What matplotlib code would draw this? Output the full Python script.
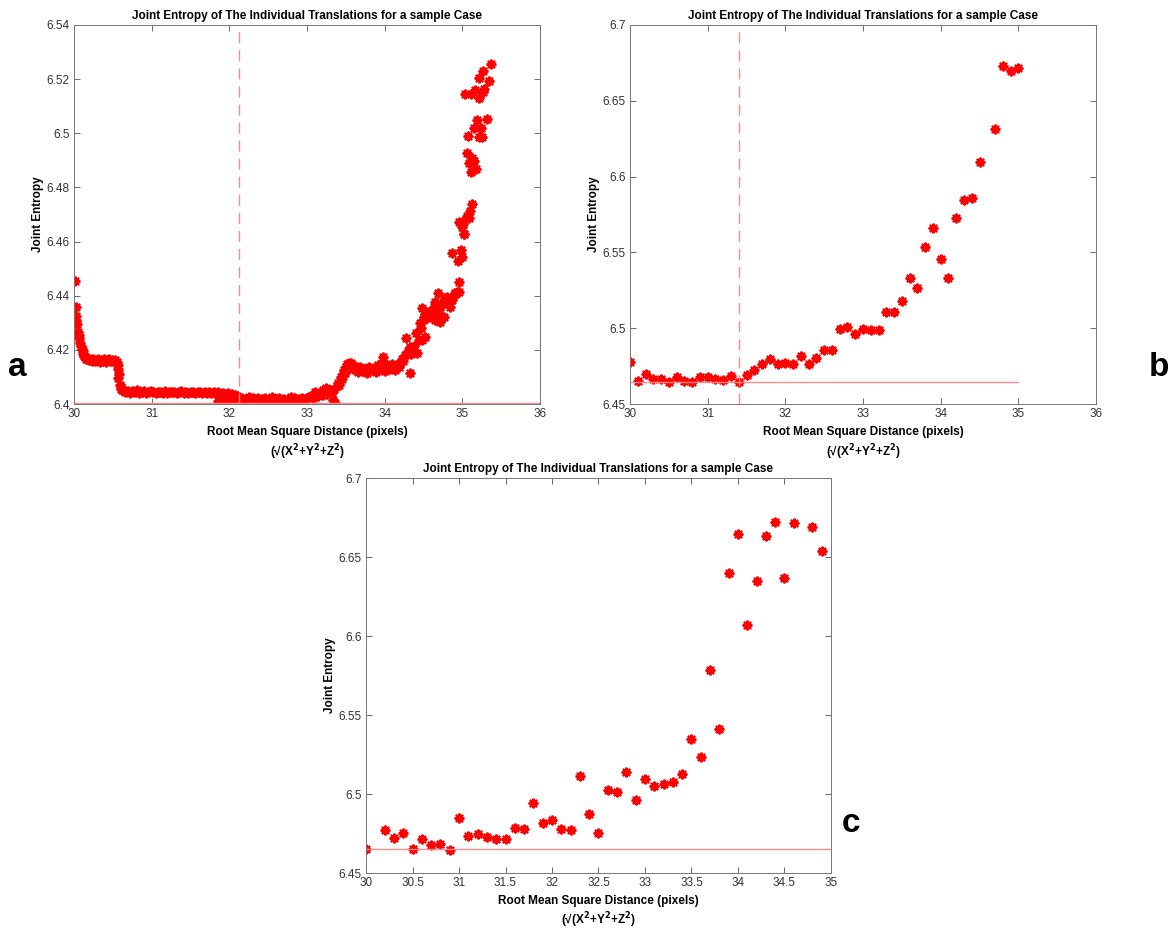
import matplotlib.pyplot as plt

plt.rcParams['font.family'] = ['Liberation Sans', 'DejaVu Sans']

# ---------------- data ----------------
# panel a : dense cloud, typed segment by segment
a_x_decay = [30.01, 30.02, 30.03, 30.03, 30.04, 30.05, 30.06, 30.07, 30.08, 30.09,
             30.10, 30.11, 30.12, 30.13, 30.14, 30.15]
a_y_decay = [6.4455, 6.4360, 6.4325, 6.4310, 6.4295, 6.4265, 6.4255, 6.4243, 6.4225, 6.4215,
             6.4205, 6.4195, 6.4185, 6.4178, 6.4172, 6.4168]

a_x_step1 = [30.17, 30.19, 30.21, 30.23, 30.25, 30.27, 30.29, 30.31, 30.33, 30.35,
             30.37, 30.39, 30.41, 30.43, 30.45, 30.47, 30.49, 30.51, 30.53, 30.55]
a_y_step1 = [6.4166, 6.4162, 6.4168, 6.4160, 6.4165, 6.4158, 6.4163, 6.4167, 6.4156, 6.4164,
             6.4160, 6.4165, 6.4157, 6.4163, 6.4166, 6.4159, 6.4162, 6.4157, 6.4163, 6.4155]

a_x_drop = [30.56, 30.57, 30.57, 30.58, 30.59, 30.60, 30.61, 30.62]
a_y_drop = [6.4145, 6.4130, 6.4095, 6.4112, 6.4072, 6.4062, 6.4055, 6.4050]

a_x_flat1 = [30.63, 30.66, 30.69, 30.72, 30.75, 30.78, 30.81, 30.84, 30.87, 30.90,
             30.93, 30.96, 30.99, 31.02, 31.05, 31.08, 31.11, 31.14, 31.17, 31.20,
             31.23, 31.26, 31.29, 31.32, 31.35, 31.38, 31.41, 31.44, 31.47, 31.50,
             31.53, 31.56, 31.59, 31.62, 31.65, 31.68, 31.71, 31.74, 31.77, 31.80,
             31.83, 31.86, 31.89, 31.92, 31.95, 31.98, 32.01, 32.04, 32.07,
             31.86, 31.95, 32.00, 32.05, 32.10, 32.13]
a_y_flat1 = [6.4052, 6.4044, 6.4049, 6.4041, 6.4047, 6.4043, 6.4050, 6.4042, 6.4046, 6.4048,
             6.4041, 6.4045, 6.4047, 6.4043, 6.4040, 6.4046, 6.4044, 6.4042, 6.4047, 6.4041,
             6.4045, 6.4043, 6.4046, 6.4040, 6.4044, 6.4047, 6.4042, 6.4045, 6.4041, 6.4044,
             6.4046, 6.4040, 6.4043, 6.4045, 6.4039, 6.4044, 6.4042, 6.4046, 6.4040, 6.4043,
             6.4041, 6.4044, 6.4038, 6.4042, 6.4036, 6.4040, 6.4035, 6.4038, 6.4033,
             6.4012, 6.4008, 6.4020, 6.4005, 6.4015, 6.4003]

a_x_flat2 = [32.10, 32.13, 32.16, 32.19, 32.22, 32.25, 32.28, 32.31, 32.34, 32.37,
             32.40, 32.43, 32.46, 32.49, 32.52, 32.55, 32.58, 32.61, 32.64, 32.67,
             32.70, 32.73, 32.76, 32.79, 32.82, 32.85, 32.88, 32.91, 32.94, 32.97, 33.00]
a_y_flat2 = [6.4030, 6.4016, 6.4024, 6.4012, 6.4020, 6.4025, 6.4014, 6.4021, 6.4017, 6.4024,
             6.4011, 6.4019, 6.4022, 6.4015, 6.4020, 6.4026, 6.4013, 6.4018, 6.4023, 6.4016,
             6.4020, 6.4012, 6.4019, 6.4025, 6.4015, 6.4021, 6.4010, 6.4018, 6.4024, 6.4014, 6.4022]

a_x_rise = [33.02, 33.05, 33.08, 33.11, 33.14, 33.17, 33.20, 33.23, 33.26, 33.29,
            33.32, 33.35, 33.36, 33.34, 33.10, 33.20, 33.25,
            33.38, 33.40, 33.42, 33.44, 33.46, 33.48, 33.50, 33.52, 33.54,
            33.41, 33.45, 33.49]
a_y_rise = [6.4025, 6.4030, 6.4022, 6.4035, 6.4028, 6.4040, 6.4033, 6.4045, 6.4038, 6.4050,
            6.4042, 6.4055, 6.4005, 6.4015, 6.4045, 6.4050, 6.4060,
            6.4065, 6.4078, 6.4085, 6.4100, 6.4112, 6.4125, 6.4138, 6.4148, 6.4152,
            6.4070, 6.4092, 6.4115]

a_x_step2 = [33.56, 33.59, 33.62, 33.65, 33.68, 33.71, 33.74, 33.77, 33.80, 33.83,
             33.86, 33.89, 33.92, 33.95, 33.98, 34.01, 34.04, 34.07, 34.10, 34.13,
             34.16, 34.19, 33.98, 34.33]
a_y_step2 = [6.4150, 6.4128, 6.4140, 6.4118, 6.4135, 6.4122, 6.4130, 6.4115, 6.4138, 6.4125,
             6.4132, 6.4120, 6.4145, 6.4128, 6.4160, 6.4122, 6.4140, 6.4130, 6.4148, 6.4125,
             6.4143, 6.4135, 6.4175, 6.4115]

a_x_climb = [34.20, 34.22, 34.24, 34.26, 34.28, 34.30, 34.32, 34.34, 34.36, 34.38,
             34.40, 34.42, 34.44, 34.48, 34.52, 34.47,
             34.46, 34.48, 34.49, 34.50, 34.52, 34.54, 34.56, 34.58, 34.60, 34.61,
             34.63, 34.65, 34.65, 34.67, 34.69, 34.70, 34.71, 34.71, 34.73, 34.76,
             34.76, 34.78, 34.80, 34.82, 34.84, 34.86, 34.88, 34.90, 34.91, 34.93,
             34.96, 34.96]
a_y_climb = [6.4150, 6.4165, 6.4158, 6.4180, 6.4243, 6.4195, 6.4210, 6.4185, 6.4200, 6.4215,
             6.4261, 6.4190, 6.4236, 6.4236, 6.4249, 6.4280,
             6.4300, 6.4353, 6.4310, 6.4320, 6.4331, 6.4316, 6.4340, 6.4341, 6.4330, 6.4322,
             6.4359, 6.4310, 6.4378, 6.4335, 6.4411, 6.4350, 6.4304, 6.4359, 6.4370, 6.4322,
             6.4378, 6.4390, 6.4396, 6.4372, 6.4357, 6.4384, 6.4394, 6.4405, 6.4409, 6.4412,
             6.4413, 6.4450]

a_x_top = [35.02, 34.98, 34.87, 34.99, 34.94,
           35.02, 35.00, 35.01, 34.99, 34.95, 35.09, 35.06, 35.10, 35.13,
           35.11, 35.18, 35.08, 35.15, 35.13, 35.06,
           35.25, 35.21, 35.07, 35.24, 35.15, 35.32, 35.19,
           35.21, 35.11, 35.03, 35.26, 35.28, 35.16, 35.22, 35.34, 35.27, 35.365]
a_y_top = [6.4628, 6.4569, 6.4557, 6.4544, 6.4528,
           6.4629, 6.4655, 6.4664, 6.4671, 6.4671, 6.4688, 6.4696, 6.4714, 6.4739,
           6.4856, 6.4867, 6.4889, 6.4898, 6.4907, 6.4928,
           6.4987, 6.4987, 6.4991, 6.5018, 6.5019, 6.5052, 6.5048,
           6.5129, 6.5144, 6.5144, 6.5153, 6.5164, 6.5161, 6.5204, 6.5194, 6.5230, 6.5256]

a_x = (a_x_decay + a_x_step1 + a_x_drop + a_x_flat1 + a_x_flat2 +
       a_x_rise + a_x_step2 + a_x_climb + a_x_top)
a_y = (a_y_decay + a_y_step1 + a_y_drop + a_y_flat1 + a_y_flat2 +
       a_y_rise + a_y_step2 + a_y_climb + a_y_top)
a_min = 6.4003
a_vline = 32.12

# panel b
b_x = [30.0, 30.1, 30.2, 30.3, 30.4, 30.5, 30.6, 30.7, 30.8, 30.9,
       31.0, 31.1, 31.2, 31.3, 31.4, 31.5, 31.6, 31.7, 31.8, 31.9,
       32.0, 32.1, 32.2, 32.3, 32.4, 32.5, 32.6, 32.7, 32.8, 32.9,
       33.0, 33.1, 33.2, 33.3, 33.4, 33.5, 33.6, 33.7, 33.8, 33.9,
       34.0, 34.1, 34.2, 34.3, 34.4, 34.5, 34.7, 34.8, 34.9, 35.0]
b_y = [6.4774, 6.4653, 6.4699, 6.4662, 6.4664, 6.4646, 6.4675, 6.4653, 6.4646, 6.4677,
       6.4677, 6.4666, 6.4659, 6.4686, 6.4646, 6.4692, 6.4723, 6.4765, 6.4798, 6.4765,
       6.4771, 6.4765, 6.4818, 6.4767, 6.4802, 6.4855, 6.4855, 6.4998, 6.5007, 6.4963,
       6.4998, 6.4989, 6.4989, 6.5106, 6.5106, 6.5182, 6.5330, 6.5266, 6.5534, 6.5664,
       6.5459, 6.5332, 6.5724, 6.5846, 6.5860, 6.6099, 6.6316, 6.6728, 6.6697, 6.6713]
b_min = 6.4644
b_vline = 31.4

# panel c
c_x = [30.0, 30.2, 30.3, 30.4, 30.5, 30.6, 30.7, 30.8, 30.9,
       31.0, 31.1, 31.2, 31.3, 31.4, 31.5, 31.6, 31.7, 31.8, 31.9,
       32.0, 32.1, 32.2, 32.3, 32.4, 32.5, 32.6, 32.7, 32.8, 32.9,
       33.0, 33.1, 33.2, 33.3, 33.4, 33.5, 33.6, 33.7, 33.8, 33.9,
       34.0, 34.1, 34.2, 34.3, 34.4, 34.5, 34.6, 34.8, 34.9]
c_y = [6.4650, 6.4770, 6.4722, 6.4751, 6.4650, 6.4713, 6.4675, 6.4681, 6.4648,
       6.4850, 6.4734, 6.4749, 6.4730, 6.4713, 6.4713, 6.4787, 6.4778, 6.4941, 6.4816,
       6.4833, 6.4778, 6.4772, 6.5112, 6.4871, 6.4751, 6.5025, 6.5013, 6.5139, 6.4962,
       6.5093, 6.5049, 6.5063, 6.5076, 6.5124, 6.5346, 6.5236, 6.5788, 6.5409, 6.6399,
       6.6648, 6.6069, 6.6348, 6.6631, 6.6724, 6.6365, 6.6716, 6.6692, 6.6536]
c_min = 6.4650

title = 'Joint Entropy of The Individual Translations for a sample Case'
xlab = 'Root Mean Square Distance (pixels)\n(\u221a(X$^\\mathbf{2}$+Y$^\\mathbf{2}$+Z$^\\mathbf{2}$)'
ylab = 'Joint Entropy'

# ---------------- drawing ----------------
fig = plt.figure(figsize=(11.71, 9.32), dpi=100)
ax_a = fig.add_axes([0.0632, 0.5665, 0.398, 0.4067])
ax_b = fig.add_axes([0.538, 0.5665, 0.398, 0.4067])
ax_c = fig.add_axes([0.3126, 0.0633, 0.397, 0.4238])

red = '#ff0000'
pink = '#ff8a8a'
star = (8, 2, 0)  # matlab-like asterisk


def style(ax, xlim, ylim, xticks, yticks):
    ax.set_xlim(xlim)
    ax.set_ylim(ylim)
    ax.set_xticks(xticks)
    ax.set_yticks(yticks)
    ax.set_xticklabels(['%g' % t for t in xticks])
    ax.set_yticklabels(['%g' % t for t in yticks])
    ax.tick_params(direction='in', top=True, right=True, length=4, width=0.6,
                   color='#555555', labelcolor='#333333', labelsize=8.5, pad=3)
    for s in ax.spines.values():
        s.set_color('#777777')
        s.set_linewidth(0.7)
    ax.set_title(title, fontsize=8.5, fontweight='bold', pad=4)
    ax.set_xlabel(xlab, fontsize=8.5, fontweight='bold', labelpad=4, linespacing=1.3)
    ax.set_ylabel(ylab, fontsize=8.5, fontweight='bold', labelpad=2)


ax_a.plot(a_x, a_y, ls='none', marker=star, color=red, markersize=7, markeredgewidth=1.5)
ax_a.plot([30, 36], [a_min, a_min], '-', color=pink, lw=1)
ax_a.axvline(a_vline, color=pink, lw=1, ls=(0, (8, 5)))
style(ax_a, (30, 36), (6.4, 6.54), [30, 31, 32, 33, 34, 35, 36],
      [6.4, 6.42, 6.44, 6.46, 6.48, 6.5, 6.52, 6.54])

ax_b.plot(b_x, b_y, ls='none', marker=star, color=red, markersize=7, markeredgewidth=1.5)
ax_b.plot([30, 35], [b_min, b_min], '-', color=pink, lw=1)
ax_b.axvline(b_vline, color=pink, lw=1, ls=(0, (8, 5)))
style(ax_b, (30, 36), (6.45, 6.7), [30, 31, 32, 33, 34, 35, 36],
      [6.45, 6.5, 6.55, 6.6, 6.65, 6.7])

ax_c.plot(c_x, c_y, ls='none', marker=star, color=red, markersize=7, markeredgewidth=1.5)
ax_c.plot([30, 35], [c_min, c_min], '-', color=pink, lw=1)
style(ax_c, (30, 35), (6.45, 6.7), [30, 30.5, 31, 31.5, 32, 32.5, 33, 33.5, 34, 34.5, 35],
      [6.45, 6.5, 6.55, 6.6, 6.65, 6.7])

fig.text(0.015, 0.606, 'a', fontsize=24, fontweight='bold', ha='center', va='center')
fig.text(0.990, 0.606, 'b', fontsize=24, fontweight='bold', ha='center', va='center')
fig.text(0.727, 0.116, 'c', fontsize=24, fontweight='bold', ha='center', va='center')

fig.savefig('out.png', dpi=100)
